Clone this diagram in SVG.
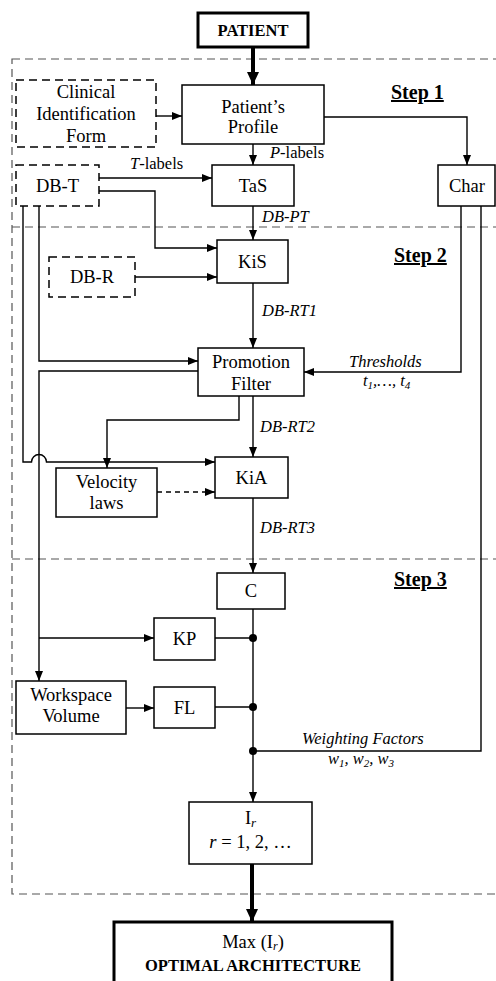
<svg xmlns="http://www.w3.org/2000/svg" width="496" height="981" viewBox="0 0 496 981">
<style>
text{font-family:"Liberation Serif","Times New Roman",serif;fill:#000}
.n{font-size:18.5px;text-anchor:middle}
.b{font-size:16.5px;font-weight:bold;text-anchor:middle}
.st{font-size:20px;font-weight:bold;text-decoration:underline}
.l{font-size:16.5px}
.i{font-style:italic}
.sub{font-size:11px}
.box{fill:#fff;stroke:#000;stroke-width:1.5}
.dbox{fill:#fff;stroke:#000;stroke-width:1.5;stroke-dasharray:8 5}
.thick{fill:#fff;stroke:#000;stroke-width:3}
.c{fill:none;stroke:#000;stroke-width:1.4}
.cd{fill:none;stroke:#000;stroke-width:1.4;stroke-dasharray:5 4}
.ct{fill:none;stroke:#000;stroke-width:4}
.frame{fill:none;stroke:#555;stroke-width:1.2;stroke-dasharray:8 5}
</style>
<defs>
<marker id="a" markerUnits="userSpaceOnUse" markerWidth="10" markerHeight="8" refX="10" refY="4" orient="auto"><path d="M0,0 L10,4 L0,8 z" fill="#000"/></marker>
<marker id="at" markerUnits="userSpaceOnUse" markerWidth="13" markerHeight="12" refX="13" refY="6" orient="auto"><path d="M0,0 L13,6 L0,12 z" fill="#000"/></marker>
</defs>
<rect width="496" height="981" fill="#fff"/>
<g id="frame">
<rect class="frame" x="12" y="59" width="500" height="835"/>
<line class="frame" x1="12" y1="227" x2="496" y2="227"/>
<line class="frame" x1="12" y1="559" x2="496" y2="559"/>
<text class="st" x="391" y="99">Step 1</text>
<text class="st" x="394" y="262">Step 2</text>
<text class="st" x="394" y="586">Step 3</text>
</g>
<g id="connectors">
<path class="ct" d="M253,47 V85" marker-end="url(#at)"/>
<path class="c" d="M156,116 H182" marker-end="url(#a)"/>
<path class="c" d="M324,117 H467 V165" marker-end="url(#a)"/>
<path class="c" d="M253,144 V165" marker-end="url(#a)"/>
<path class="c" d="M99,178 H212" marker-end="url(#a)"/>
<path class="c" d="M99,191 H155 V248 H217" marker-end="url(#a)"/>
<path class="c" d="M253,206 V240" marker-end="url(#a)"/>
<path class="c" d="M135,277 H217" marker-end="url(#a)"/>
<path class="c" d="M253,283 V348" marker-end="url(#a)"/>
<path class="c" d="M39,206 V361 H198" marker-end="url(#a)"/>
<path class="c" d="M198,371 H39 V681" marker-end="url(#a)"/>
<path class="c" d="M39,638 H154" marker-end="url(#a)"/>
<path class="c" d="M23,206 V462 H31.5 A7.5,7.5 0 0 1 46.5,462 H215" marker-end="url(#a)"/>
<path class="c" d="M461,206 V372 H304" marker-end="url(#a)"/>
<path class="c" d="M239,396 V420 H107 V468" marker-end="url(#a)"/>
<path class="c" d="M253,396 V457" marker-end="url(#a)"/>
<path class="cd" d="M157,492 H215" marker-end="url(#a)"/>
<path class="c" d="M253,498 V573" marker-end="url(#a)"/>
<path class="c" d="M253,609 V802" marker-end="url(#a)"/>
<path class="c" d="M215,638 H253"/>
<path class="c" d="M126,708 H154" marker-end="url(#a)"/>
<path class="c" d="M215,707 H253"/>
<path class="c" d="M481,206 V751 H253"/>
<path class="ct" d="M252,864 V922" marker-end="url(#at)"/>
<circle cx="253" cy="638" r="4"/>
<circle cx="253" cy="707" r="4"/>
<circle cx="253" cy="751" r="4"/>
<text class="l" x="270" y="158"><tspan class="i">P</tspan>-labels</text>
<text class="l" x="130" y="169"><tspan class="i">T</tspan>-labels</text>
<text class="l i" x="262" y="222">DB-PT</text>
<text class="l i" x="262" y="316">DB-RT1</text>
<text class="l i" x="260" y="432">DB-RT2</text>
<text class="l i" x="260" y="533">DB-RT3</text>
<text class="l i" x="349" y="367">Thresholds</text>
<text class="l i" x="363" y="386">t<tspan class="sub" dy="3">1</tspan><tspan dy="-3">,…, t</tspan><tspan class="sub" dy="3">4</tspan></text>
<text class="l i" x="302" y="744">Weighting Factors</text>
<text class="l i" x="328" y="764">w<tspan class="sub" dy="3">1</tspan><tspan dy="-3">, w</tspan><tspan class="sub" dy="3">2</tspan><tspan dy="-3">, w</tspan><tspan class="sub" dy="3">3</tspan></text>
</g>
<g id="patient"><rect class="thick" x="198" y="13" width="110" height="34"/><text class="b" x="253" y="36">PATIENT</text></g>
<g id="clinical"><rect class="dbox" x="16" y="80" width="140" height="67"/><text class="n" x="86" y="98">Clinical</text><text class="n" x="86" y="120">Identification</text><text class="n" x="86" y="142">Form</text></g>
<g id="profile"><rect class="box" x="182" y="85" width="142" height="59"/><text class="n" x="253" y="113">Patient’s</text><text class="n" x="253" y="133">Profile</text></g>
<g id="dbt"><rect class="dbox" x="16" y="165" width="83" height="41"/><text class="n" x="57.5" y="192">DB-T</text></g>
<g id="tas"><rect class="box" x="212" y="165" width="82" height="41"/><text class="n" x="253" y="192">TaS</text></g>
<g id="char"><rect class="box" x="438" y="165" width="57" height="41"/><text class="n" x="467" y="192">Char</text></g>
<g id="kis"><rect class="box" x="217" y="240" width="71" height="43"/><text class="n" x="252.5" y="268">KiS</text></g>
<g id="dbr"><rect class="dbox" x="49" y="257" width="86" height="40"/><text class="n" x="92" y="283">DB-R</text></g>
<g id="pf"><rect class="box" x="198" y="348" width="106" height="48"/><text class="n" x="251" y="368">Promotion</text><text class="n" x="251" y="390">Filter</text></g>
<g id="velocity"><rect class="box" x="56" y="468" width="101" height="49"/><text class="n" x="106.5" y="488">Velocity</text><text class="n" x="106.5" y="509">laws</text></g>
<g id="kia"><rect class="box" x="215" y="457" width="73" height="41"/><text class="n" x="251.5" y="484">KiA</text></g>
<g id="c"><rect class="box" x="217" y="573" width="68" height="36"/><text class="n" x="251" y="597">C</text></g>
<g id="kp"><rect class="box" x="154" y="618" width="61" height="42"/><text class="n" x="184.5" y="645">KP</text></g>
<g id="wv"><rect class="box" x="16" y="681" width="110" height="53"/><text class="n" x="71" y="701">Workspace</text><text class="n" x="71" y="722">Volume</text></g>
<g id="fl"><rect class="box" x="154" y="687" width="61" height="41"/><text class="n" x="184.5" y="714">FL</text></g>
<g id="ir"><rect class="box" x="189" y="802" width="123" height="62"/><text class="n" x="250.5" y="824">I<tspan class="i" font-size="13px" dy="3">r</tspan></text><text class="n" x="250.5" y="848"><tspan class="i">r</tspan> = 1, 2, …</text></g>
<g id="final"><rect class="thick" x="114" y="922" width="278" height="75"/><text class="n" x="253" y="948">Max (I<tspan class="i" font-size="12px" dy="2">r</tspan><tspan dy="-2">)</tspan></text><text class="b" x="253" y="971">OPTIMAL ARCHITECTURE</text></g>
</svg>
